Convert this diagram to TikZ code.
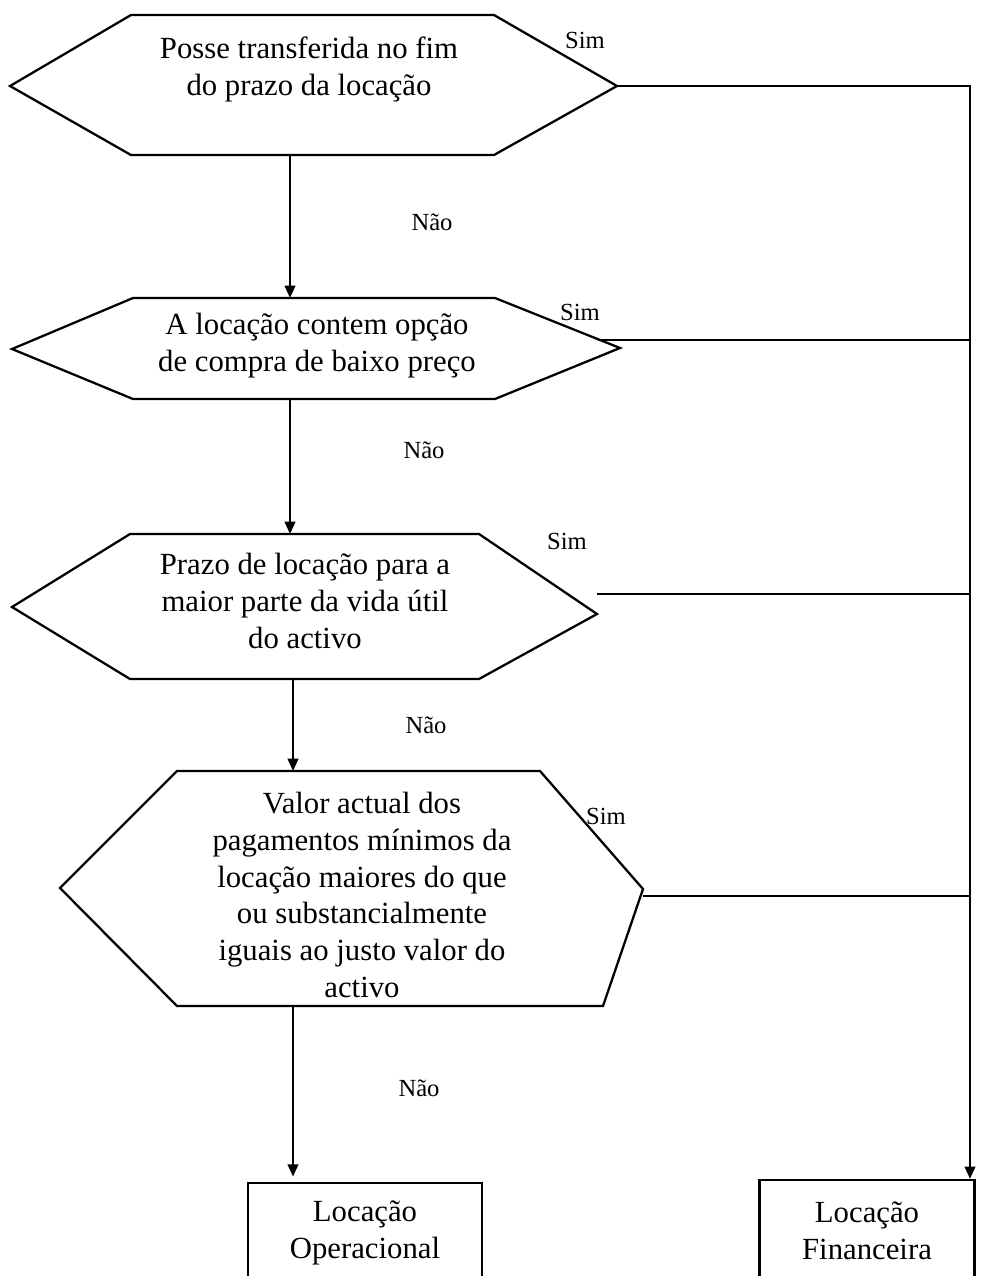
\documentclass[tikz,border=0pt]{standalone}
\usepackage{fontspec}
\setmainfont{Liberation Serif}
\usetikzlibrary{positioning,arrows.meta}

\begin{document}
\begin{tikzpicture}[
		x=0.02cm, y=-0.02cm
		,line width=1.3pt
		,txt/.style={align=center, font=\fontsize{17.5}{21}\selectfont}
		,lbl/.style={font=\fontsize{14}{16}\selectfont}
		,box/.style={draw, align=center, line width=1.3pt, font=\fontsize{17.5}{21}\selectfont}
		,arr/.style={-{Triangle[length=7pt,width=6pt]}}
	]
	\useasboundingbox (0,0) rectangle (981,1276);
	\clip (0,0) rectangle (981,1276);

	\draw (10,86) -- (131,15) -- (494,15) -- (617,86) -- (494,155) -- (131,155) -- cycle;
	\node[txt] (Q1) at (309,69) {Posse transferida no fim\\do prazo da locação};
	\coordinate (Q1r) at (617,86);
	\coordinate (Q1b) at (290,155);

	\draw (12,349) -- (133,298) -- (495,298) -- (620,348) -- (495,399) -- (133,399) -- cycle;
	\node[txt] (Q2) at (317,346) {A locação contem opção\\de compra de baixo preço};
	\coordinate (Q2t) at (290,298);
	\coordinate (Q2r) at (598,340);
	\coordinate (Q2b) at (290,399);

	\draw (12,607) -- (130,534) -- (479,534) -- (597,614) -- (479,679) -- (130,679) -- cycle;
	\node[txt] (Q3) at (305,601) {Prazo de locação para a\\maior parte da vida útil\\do activo};
	\coordinate (Q3t) at (290,534);
	\coordinate (Q3r) at (597,594);
	\coordinate (Q3b) at (293,679);

	\draw (60,888) -- (177,771) -- (540,771) -- (643,889) -- (603,1006) -- (177,1006) -- cycle;
	\node[txt] (Q4) at (362,895) {Valor actual dos\\pagamentos mínimos da\\locação maiores do que\\ou substancialmente\\iguais ao justo valor do\\activo};
	\coordinate (Q4t) at (293,771);
	\coordinate (Q4r) at (643,896);
	\coordinate (Q4b) at (293,1006);

	\node[box, minimum width=4.68cm, minimum height=2cm] (O) at (365,1233) {Locação\\Operacional};
	\node[box, minimum width=4.3cm, minimum height=2.04cm] (F) at (867,1231) {Locação\\Financeira};

	\coordinate (R) at (970,86);

	\draw[arr] (Q1b) -- (Q2t);
	\draw[arr] (Q2b) -- (Q3t);
	\draw[arr] (Q3b) -- (Q4t);
	\draw[arr, shorten >=3pt] (Q4b) -- (Q4b |- O.north);

	\draw[arr] (Q1r) -- (R) -- (R |- F.north);
	\draw (Q2r) -- (Q2r -| R);
	\draw (Q3r) -- (Q3r -| R);
	\draw (Q4r) -- (Q4r -| R);

	\node[lbl] (S1) at (585,40) {Sim};
	\node[lbl] (S2) at (580,312) {Sim};
	\node[lbl] (S3) at (567,541) {Sim};
	\node[lbl] (S4) at (606,816) {Sim};

	\node[lbl] (N1) at (432,222) {Não};
	\node[lbl] (N2) at (424,450) {Não};
	\node[lbl] (N3) at (426,725) {Não};
	\node[lbl] (N4) at (419,1088) {Não};
\end{tikzpicture}
\end{document}
